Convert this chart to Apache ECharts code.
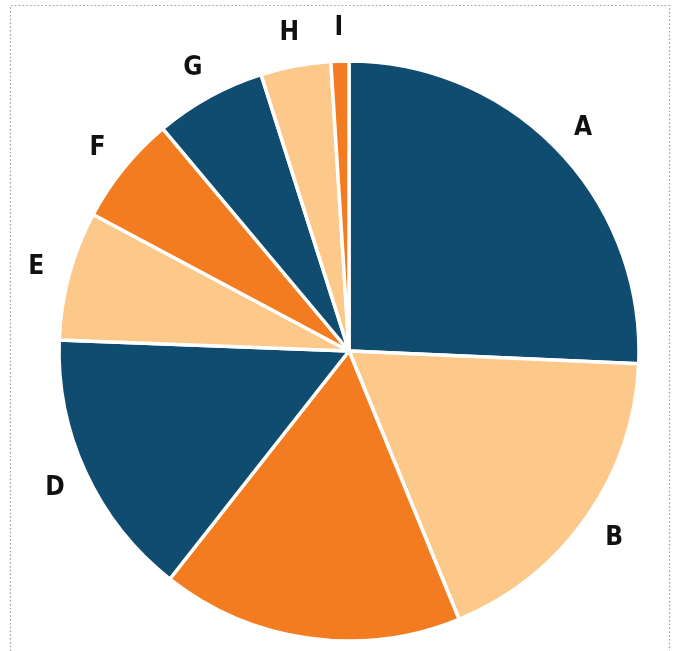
<!DOCTYPE html>
<html>
<head>
<meta charset="utf-8">
<script src="https://cdn.jsdelivr.net/npm/echarts@6/dist/echarts.min.js"></script>
<style>
  html, body { margin: 0; padding: 0; background: #fff; }
  #chart { width: 678px; height: 651px; }
</style>
</head>
<body>
<div id="chart"></div>
<script>
// slice names and shares (percent)
let names = ['A', 'B', 'C', 'D', 'E', 'F', 'G', 'H', 'I'];
let shares = [25.7, 18.1, 16.8, 15.0, 7.2, 6.1, 6.2, 3.9, 1.0];
let hiddenLabels = ['C'];
let colors = ['#0f4c70', '#fdc98b', '#f47c20'];

let pieData = names.map(function (n, i) {
    return {name: n, value: shares[i], itemStyle: {color: colors[i % 3]}};
});
// same slices again, only used to put the letters just outside the rim
let labelData = names.map(function (n, i) {
    return {name: n, value: shares[i], label: {show: hiddenLabels.indexOf(n) < 0}};
});

let myChart = echarts.init(document.getElementById('chart'));
let option = {
    animation: false,
    graphic: [{
        type: 'polyline',
        shape: {points: [[10.5, 651], [10.5, 5.5], [669.5, 5.5], [669.5, 651]]},
        style: {stroke: '#9a9a9a', lineWidth: 1.2, fill: null, lineDash: [1.5, 2.3]},
        silent: true
    }],
    series: [
        {
            name: 'pie',
            type: 'pie',
            center: [349, 351],
            radius: [0, 290],
            startAngle: 90,
            clockwise: true,
            avoidLabelOverlap: false,
            label: {show: false},
            labelLine: {show: false},
            itemStyle: {borderColor: '#ffffff', borderWidth: 3.5},
            emphasis: {disabled: true},
            data: pieData
        },
        {
            name: 'labels',
            type: 'pie',
            center: [349, 352],
            radius: [304, 338],
            startAngle: 90,
            clockwise: true,
            silent: true,
            avoidLabelOverlap: false,
            itemStyle: {color: 'rgba(0,0,0,0)'},
            label: {
                position: 'inside',
                formatter: '{b}',
                color: '#111111',
                fontFamily: '"DejaVu Sans Condensed", "Liberation Sans Narrow", sans-serif',
                fontWeight: 'bold',
                fontSize: 26
            },
            labelLine: {show: false},
            emphasis: {disabled: true},
            data: labelData
        }
    ]
};
myChart.setOption(option, true);
</script>
</body>
</html>
